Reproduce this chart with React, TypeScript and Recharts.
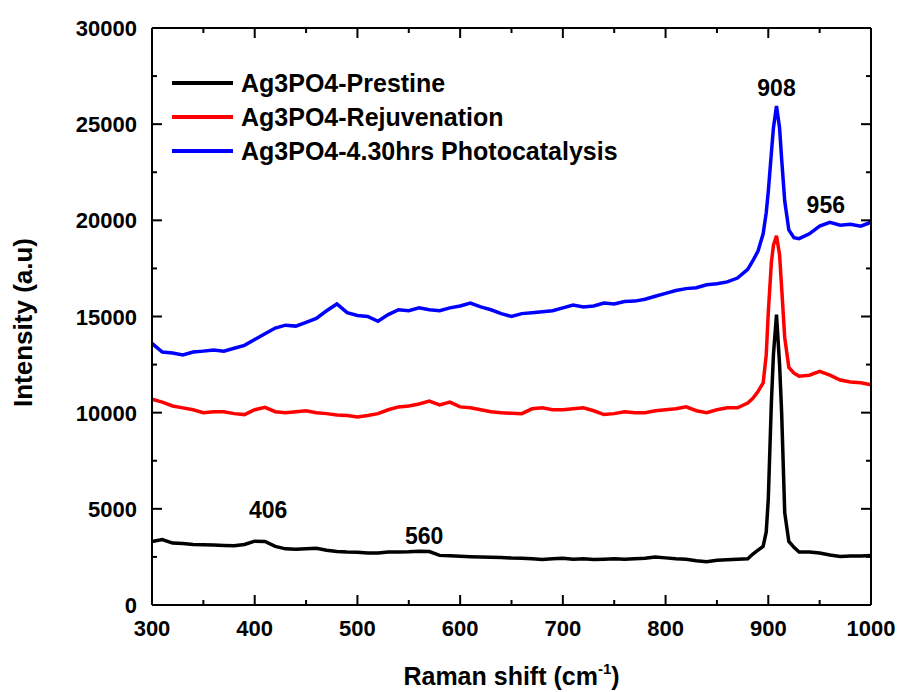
import React from 'react';
import { LineChart, Line, XAxis, YAxis, ReferenceDot } from 'recharts';

const FONT = 'Arial, "Liberation Sans", sans-serif';

// Raman shift (cm-1)
const shift = [
  300, 310, 320, 330, 340, 350, 360, 370, 380, 390, 400, 410, 420, 430, 440, 450, 460, 470, 480, 490,
  500, 510, 520, 530, 540, 550, 560, 570, 580, 590, 600, 610, 620, 630, 640, 650, 660, 670, 680, 690,
  700, 710, 720, 730, 740, 750, 760, 770, 780, 790, 800, 810, 820, 830, 840, 850, 860, 870, 880, 885,
  890, 895, 898, 900, 903, 905, 908, 911, 913, 916, 920, 925, 930, 940, 950, 960, 970, 980, 990, 1000,
];

const prestine = [
  3300, 3400, 3220, 3200, 3150, 3130, 3120, 3100, 3080, 3150, 3320, 3300, 3050, 2920, 2900, 2930, 2950, 2850, 2780, 2750,
  2740, 2700, 2710, 2750, 2760, 2770, 2800, 2780, 2580, 2560, 2540, 2510, 2490, 2480, 2470, 2440, 2430, 2400, 2370, 2400,
  2430, 2380, 2400, 2370, 2380, 2400, 2380, 2400, 2430, 2500, 2450, 2400, 2380, 2300, 2250, 2330, 2350, 2380, 2400, 2650,
  2850, 3050, 3800, 5500, 10500, 13000, 15100, 12500, 10000, 4800, 3300, 3000, 2750, 2760, 2700, 2600, 2520, 2550, 2550, 2580,
];

const rejuvenation = [
  10700, 10550, 10350, 10250, 10150, 10000, 10050, 10050, 9950, 9900, 10150, 10280, 10050, 10000, 10050, 10100, 10000, 9950, 9880, 9850,
  9780, 9850, 9950, 10150, 10300, 10350, 10450, 10600, 10400, 10550, 10300, 10250, 10150, 10050, 10000, 9970, 9950, 10200, 10250, 10150,
  10150, 10200, 10250, 10100, 9900, 9950, 10050, 10000, 10000, 10100, 10150, 10200, 10300, 10100, 10000, 10150, 10250, 10250, 10500, 10750,
  11100, 11550, 13000, 15200, 17800, 18700, 19200, 18200, 16500, 13900, 12350, 12050, 11900, 11950, 12150, 11950, 11700, 11600, 11550, 11450,
];

const photocatalysis = [
  13600, 13150, 13100, 13000, 13150, 13200, 13260, 13200, 13350, 13500, 13800, 14100, 14400, 14550, 14500, 14700, 14900, 15300, 15650, 15200,
  15050, 15000, 14750, 15100, 15350, 15300, 15450, 15350, 15300, 15450, 15550, 15700, 15500, 15350, 15150, 15000, 15150, 15200, 15250, 15300,
  15450, 15600, 15500, 15550, 15700, 15650, 15780, 15800, 15900, 16050, 16200, 16350, 16450, 16500, 16650, 16700, 16800, 17000, 17450, 17900,
  18400, 19300, 20400, 21500, 23500, 24800, 25950, 24800, 23200, 21000, 19500, 19100, 19050, 19300, 19700, 19900, 19750, 19800, 19700, 19900,
];

const xTicks = [300, 350, 400, 450, 500, 550, 600, 650, 700, 750, 800, 850, 900, 950, 1000];
const yTicks = [0, 2500, 5000, 7500, 10000, 12500, 15000, 17500, 20000, 22500, 25000, 27500, 30000];

const seriesKeys = ['photo', 'rejuvenation', 'prestine'];
const seriesColors: Record<string, string> = { prestine: '#000000', rejuvenation: '#ff0000', photo: '#0000ff' };
const legendOrder = ['prestine', 'rejuvenation', 'photo'];
const legendNames: Record<string, string> = {
  prestine: 'Ag3PO4-Prestine',
  rejuvenation: 'Ag3PO4-Rejuvenation',
  photo: 'Ag3PO4-4.30hrs Photocatalysis',
};

const peakLabels = [
  { x: 908, y: 26880, text: '908' },
  { x: 956, y: 20800, text: '956' },
  { x: 413, y: 4940, text: '406' },
  { x: 565, y: 3590, text: '560' },
];

const data = shift.map((x, i) => ({
  x,
  prestine: prestine[i],
  rejuvenation: rejuvenation[i],
  photo: photocatalysis[i],
}));

const BottomTick = (props: any) => {
  const { x, y, payload } = props;
  const major = payload.value % 100 === 0;
  return (
    <g>
      <line x1={x} x2={x} y1={y} y2={y - (major ? 10 : 5)} stroke="#000" strokeWidth={2} />
      {major && (
        <text x={x} y={y + 31} textAnchor="middle" fontSize={22} fontWeight="bold" fontFamily={FONT} fill="#000">
          {payload.value}
        </text>
      )}
    </g>
  );
};

const TopTick = (props: any) => {
  const { x, y, payload } = props;
  const major = payload.value % 100 === 0;
  return <line x1={x} x2={x} y1={y} y2={y + (major ? 10 : 5)} stroke="#000" strokeWidth={2} />;
};

const LeftTick = (props: any) => {
  const { x, y, payload } = props;
  const major = payload.value % 5000 === 0;
  return (
    <g>
      <line x1={x} x2={x + (major ? 10 : 5)} y1={y} y2={y} stroke="#000" strokeWidth={2} />
      {major && (
        <text x={x - 15} y={y + 8} textAnchor="end" fontSize={22} fontWeight="bold" fontFamily={FONT} fill="#000">
          {payload.value}
        </text>
      )}
    </g>
  );
};

const RightTick = (props: any) => {
  const { x, y, payload } = props;
  const major = payload.value % 5000 === 0;
  return <line x1={x} x2={x - (major ? 10 : 5)} y1={y} y2={y} stroke="#000" strokeWidth={2} />;
};

const XTitle = (props: any) => {
  const { viewBox } = props;
  const cx = viewBox.x + viewBox.width / 2;
  return (
    <text x={cx} y={viewBox.y + 80} textAnchor="middle" fontSize={25} fontWeight="bold" fontFamily={FONT} fill="#000">
      Raman shift (cm
      <tspan fontSize={15} dy={-11}>-1</tspan>
      <tspan dy={11}>)</tspan>
    </text>
  );
};

const YTitle = (props: any) => {
  const { viewBox } = props;
  const cy = viewBox.y + viewBox.height / 2 + 6;
  return (
    <text x={32} y={cy} transform={`rotate(-90, 32, ${cy})`} textAnchor="middle" fontSize={26} fontWeight="bold" fontFamily={FONT} fill="#000">
      Intensity (a.u)
    </text>
  );
};

export default function App() {
  return (
    <div style={{ position: 'absolute', left: 0, top: 0, width: 899, height: 692, background: '#fff' }}>
      <LineChart width={899} height={692} data={data} margin={{ top: 27, right: 27, left: 92, bottom: 47 }}>
        <XAxis
          dataKey="x"
          type="number"
          domain={[300, 1000]}
          ticks={xTicks}
          interval={0}
          height={40}
          tickSize={0}
          tickMargin={0}
          tickLine={false}
          tick={<BottomTick />}
          axisLine={{ stroke: '#000', strokeWidth: 2 }}
          label={<XTitle />}
          allowDataOverflow
        />
        <XAxis
          xAxisId="top"
          orientation="top"
          dataKey="x"
          type="number"
          domain={[300, 1000]}
          ticks={xTicks}
          interval={0}
          height={1}
          tickSize={0}
          tickMargin={0}
          tickLine={false}
          tick={<TopTick />}
          axisLine={{ stroke: '#000', strokeWidth: 2 }}
          allowDataOverflow
        />
        <YAxis
          type="number"
          domain={[0, 30000]}
          ticks={yTicks}
          interval={0}
          width={60}
          tickSize={0}
          tickMargin={0}
          tickLine={false}
          tick={<LeftTick />}
          axisLine={{ stroke: '#000', strokeWidth: 2 }}
          label={<YTitle />}
          allowDataOverflow
        />
        <YAxis
          yAxisId="right"
          orientation="right"
          type="number"
          domain={[0, 30000]}
          ticks={yTicks}
          interval={0}
          width={1}
          tickSize={0}
          tickMargin={0}
          tickLine={false}
          tick={<RightTick />}
          axisLine={{ stroke: '#000', strokeWidth: 2 }}
          allowDataOverflow
        />
        {seriesKeys.map((k) => (
          <Line
            key={k}
            type="linear"
            dataKey={k}
            stroke={seriesColors[k]}
            strokeWidth={3.5}
            dot={false}
            isAnimationActive={false}
          />
        ))}
        {peakLabels.map((p) => (
          <ReferenceDot
            key={p.text}
            x={p.x}
            y={p.y}
            r={1}
            fill="none"
            stroke="none"
            label={{ value: p.text, position: 'center', fontSize: 23, fontWeight: 'bold', fontFamily: FONT, fill: '#000' }}
          />
        ))}
      </LineChart>
      <svg width={899} height={692} style={{ position: 'absolute', left: 0, top: 0, pointerEvents: 'none' }}>
        {legendOrder.map((k, i) => {
          const cy = 83 + i * 34;
          return (
            <g key={k}>
              <line x1={172} x2={233} y1={cy} y2={cy} stroke={seriesColors[k]} strokeWidth={4} />
              <text x={241} y={cy + 9} fontSize={25} fontWeight="bold" fontFamily={FONT} fill="#000">
                {legendNames[k]}
              </text>
            </g>
          );
        })}
      </svg>
    </div>
  );
}
